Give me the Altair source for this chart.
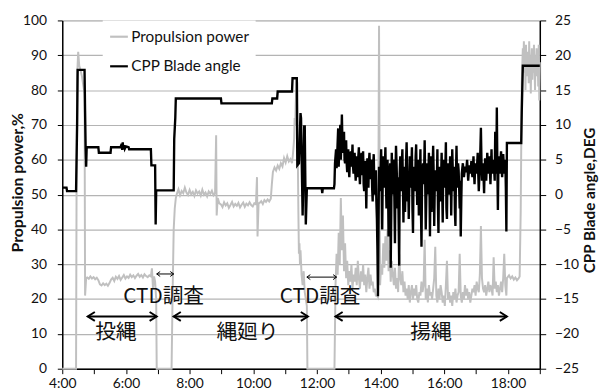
import altair as alt
import pandas as pd


def hrs(t):
    h, m = t.split(":")
    return int(h) + int(m) / 60.0


# ---------------- Propulsion power (%) ----------------
prop_pts_1_t = ["4:00", "4:26", "4:27", "4:28", "4:30", "4:32", "4:34", "4:37", "4:40", "4:42", "4:43", "4:45"]
prop_pts_1_v = [0, 0, 55, 84, 91, 87, 86, 84, 81, 79, 21, 26]

prop_run_1_start, prop_run_1_step = "4:47", 3
prop_run_1_v = [26.2, 25.8, 26.5, 25.9, 26.3, 25.7, 26.1, 25.4,
                24.2, 23.9, 24.5, 24.0, 24.4, 23.8, 24.6,
                25.6, 26.1, 25.2, 26.4, 25.8, 26.6, 25.5, 26.2, 26.9, 25.9, 26.5, 26.1, 27.0,
                26.3, 26.8, 26.0, 26.7, 27.2, 26.4, 26.9, 26.2, 27.1, 26.6, 26.3, 26.8, 26.5]

prop_pts_2_t = ["6:49", "6:51", "6:53", "6:55", "6:57", "6:58", "7:26", "7:28", "7:30", "7:32", "7:34"]
prop_pts_2_v = [28.8, 23, 26.5, 25, 20, 0, 0, 22, 40, 46, 49]

prop_run_2_start, prop_run_2_step = "7:36", 3
prop_run_2_v = [50.2, 51.5, 49.8, 51.0, 50.4, 52.0, 50.6, 49.9, 51.3, 50.1, 50.8, 49.6,
                51.2, 50.3, 50.9, 49.7, 51.4, 50.0, 50.6, 49.5, 50.9, 50.2, 51.1, 49.8]

prop_pts_3_t = ["8:48", "8:50", "8:51", "8:53", "8:56"]
prop_pts_3_v = [50.5, 67, 44, 49, 47.5]

prop_run_3_start, prop_run_3_step = "8:59", 3
prop_run_3_v = [47.2, 46.4, 47.8, 46.9, 47.5, 46.2, 47.0, 47.9, 46.6, 47.3, 46.8, 47.6,
                46.3, 47.1, 47.7, 46.5, 47.4, 46.9, 47.8, 47.0, 46.6, 47.5, 47.2]

prop_pts_4_t = ["10:07", "10:08", "10:10"]
prop_pts_4_v = [55, 38, 47.5]

prop_run_4_start, prop_run_4_step = "10:12", 3
prop_run_4_v = [47.6, 48.1, 47.3, 48.4, 47.9, 48.6, 48.0, 48.8]

prop_pts_5_t = ["10:35", "10:37", "10:40", "10:43", "10:46", "10:49", "10:52", "10:55", "10:58", "11:01",
                "11:04", "11:07", "11:10", "11:13", "11:15", "11:17", "11:18", "11:19", "11:20", "11:21",
                "11:22", "11:23", "11:24", "11:25", "11:26", "11:27", "11:28", "11:29", "11:31", "11:33",
                "11:35", "11:37", "11:39", "11:41", "11:42", "12:33"]
prop_pts_5_v = [53, 56.5, 57.8, 56.9, 58.3, 57.4, 59.0, 58.1, 60.5, 59.2,
                61.0, 59.5, 60.2, 59.0, 62, 66, 72, 70, 76, 80,
                83, 82, 60, 45, 33, 36, 30, 34, 27, 24,
                28, 22, 20, 18, 0, 0]

prop_run_5_start, prop_run_5_step = "12:35", 2
prop_run_5_v = [24, 33, 27, 39, 30, 49, 34, 44, 28, 36,
                26, 31, 24, 28, 25, 30, 23, 27, 25, 29,
                24, 31, 26, 23, 28, 25, 30, 24, 27, 22,
                26, 29, 23, 27, 24, 25, 22, 23, 21, 21,
                20.5, 98.5, 24, 30, 27, 36, 29, 38, 31, 40,
                28, 34, 25, 31, 27, 24, 29, 23, 26, 22,
                33, 26, 24, 28, 22, 25, 21, 23, 20, 24,
                19, 22, 24, 20, 23, 21, 24, 20, 19, 22,
                21, 25, 22, 24, 37, 20, 23, 19, 24, 21,
                22, 20, 23, 26, 35, 21, 19, 23, 20, 24,
                22, 19, 21, 18, 24, 31, 20, 22, 19, 21,
                18, 22, 20, 23, 19, 21, 22, 33, 21, 19,
                22, 20, 24, 21, 23, 20, 22, 19, 21, 23,
                22, 24, 21, 25, 23, 22, 27, 41, 26, 23,
                22, 24, 21, 23, 25, 22, 24, 23, 21, 32,
                23, 25, 22, 24, 21, 23, 25, 22, 26, 33,
                24, 21]

prop_pts_6_t = ["17:58", "18:02", "18:05", "18:08", "18:11", "18:14", "18:17", "18:20", "18:22", "18:24", "18:26"]
prop_pts_6_v = [26, 26.8, 25.9, 26.5, 25.6, 26.2, 25.4, 25.9, 26.5, 45, 82]

prop_run_6_start, prop_run_6_step = "18:28", 1
prop_run_6_v = [92, 88, 94, 85, 90, 80, 93, 87, 91, 84, 89, 82, 94, 86, 90, 79, 88,
                92, 83, 91, 85, 93, 87, 80, 90, 84, 92, 86, 89, 81, 93, 77, 88]

# ---------------- CPP blade angle (DEG) ----------------
blade_pts_1_t = ["4:00", "4:08", "4:09", "4:26", "4:28", "4:29", "4:42", "4:43", "4:44", "4:45", "4:46",
                 "5:08", "5:09", "5:31", "5:32", "5:50", "5:52", "5:53", "5:54", "5:55", "5:57", "5:58",
                 "6:00", "6:05", "6:06", "6:47", "6:48", "6:55", "6:56", "6:57", "7:30", "7:31", "7:33",
                 "7:34", "8:59", "9:00", "10:35", "10:36", "10:45", "10:46", "11:13", "11:14", "11:22",
                 "11:23", "11:26", "11:29", "11:30", "11:33", "11:36", "11:37", "11:39", "11:41", "12:09",
                 "12:10", "12:11", "12:32"]
blade_pts_1_v = [1.0, 1.0, 0.5, 0.5, 10, 17.9, 17.9, 12, 6.8, 4.0, 6.8,
                 6.8, 6.0, 6.0, 6.8, 6.8, 7.3, 6.4, 7.5, 6.5, 7.1, 6.6,
                 6.9, 6.8, 6.5, 6.5, 4.2, 4.2, -4.3, 0.6, 0.6, 8, 11,
                 13.8, 13.8, 13.1, 13.1, 13.8, 13.8, 14.8, 14.8, 16.7, 16.7,
                 4.2, 4.5, 11.7, 11.0, -3.0, 9.8, 9.8, -4.3, 0.9, 0.9,
                 0.2, 0.9, 0.9]

# samples on even minutes (12:33, 12:35, ...)
blade_run_a_start, blade_run_a_step = "12:33", 2
blade_run_a_v = [1.5, 5.5, 3.8, 7.5, 4.0, 8.5, 5.0, 11.5, 6.0, 9.0,
                 4.5, 7.8, 3.2, 6.5, 2.5, 5.8, 4.0, 7.2, 3.0, 6.0,
                 2.0, 5.5, 3.5, 6.8, 1.5, 5.0, 2.8, 6.2, 0.5, 4.8,
                 -2.0, 5.2, 1.0, 6.0, 2.2, 4.5, -1.0, 5.8, 0.0, 3.5,
                 -3.5, -14.6, 4.0, 0.5, 6.5, -5.0, 5.5, 1.0, 6.8, -2.0,
                 5.0, -6.0, 3.0, -10.5, 6.0, 0.0, 4.5, -7.0, 7.0, 1.5,
                 2.5, -10.2, 5.5, 0.5, 6.5, -4.0, 4.0, 1.0, 7.5, -1.0,
                 -3.5, 5.5, 1.0, 6.8, -5.5, 4.0, 0.5, 7.2, -1.5, 5.0,
                 0.5, 6.5, -7.5, 3.5, 1.5, 7.8, -5.0, 4.5, 0.0, 6.0,
                 -6.0, 5.5, 1.0, 7.0, -4.5, 3.0, 0.5, 6.5, -5.5, 4.0,
                 -1.0, 6.0, -4.0, 5.0, 1.0, 7.5, -3.5, 4.5, 0.0, 5.5,
                 -3.0, 6.5, 0.5, 4.0, -4.5, 7.0, 1.0, 3.5, -2.0, -6.0,
                 3.0, 4.5, 2.5, 4.0, 3.2, 5.0, 2.0, 4.2, 3.0, 4.8,
                 2.5, 5.5, 1.5, 4.5, 3.0, 6.0, 0.5, 4.0, 9.6, 2.0,
                 4.5, 0.2, 5.2, 2.0, 6.0, 3.0, 5.5, 1.5, 6.5, 3.5,
                 5.0, 2.0, 6.8, 12.5, -2.2, 5.5, 3.0, 6.2, 2.5, 5.8,
                 3.0, 5.0, -5.3]

# samples in between (12:34, 12:36, ...)
blade_run_b_start, blade_run_b_step = "12:34", 2
blade_run_b_v = [4.5, 6.5, 5.5, 9.5, 7.0, 10.0, 8.0, 7.5, 6.5, 5.0,
                 6.0, 4.5, 5.5, 3.8, 4.8, 6.2, 5.2, 4.0, 5.5, 3.5,
                 4.0, 2.5, 5.5, 3.0, 4.2, 6.0, 3.5, 1.5, 4.0, 2.5,
                 3.0, 1.8, 4.8, 3.2, 5.0, 1.0, 4.2, 2.0, 1.5, -1.0,
                 -8.0, -4.0, 2.0, 3.5, 1.5, 2.5, 3.0, 4.0, 2.0, 3.5,
                 1.0, -2.5, 4.5, -3.0, 2.5, 5.0, -1.0, 3.0, 4.5, -2.0,
                 -4.0, 3.0, 2.0, 4.5, 1.5, 3.0, -2.5, 5.0, 3.5, 2.0,
                 1.0, 3.5, 4.0, -2.0, 2.5, 3.0, 5.5, 1.5, 2.0, -3.0,
                 3.0, -2.0, 1.0, 4.5, 3.5, 2.0, -1.0, 2.5, 3.0, 1.5,
                 2.5, -2.5, 4.0, 3.0, 1.0, 3.5, 2.0, -1.5, 2.5, 3.0,
                 2.5, 1.0, 3.5, 2.0, 4.0, -2.0, 2.5, 3.0, 1.5, 4.0,
                 2.0, 3.5, 1.5, -2.5, 3.0, 2.5, 4.5, 1.0, 2.0, -1.0,
                 3.8, 3.4, 3.2, 3.6, 4.0, 3.5, 3.0, 3.8, 3.6, 3.5,
                 3.8, 3.2, 3.6, 4.2, 4.5, 3.0, 2.5, 6.5, 5.0, 3.0,
                 2.5, 3.5, 3.8, 4.0, 4.5, 4.2, 3.5, 4.0, 3.0, 4.5,
                 3.5, 9.0, 3.0, 4.0, 4.5, 4.0, 5.0, 4.0, 4.2, 4.5,
                 4.0, 1.0]

blade_pts_2_t = ["17:58", "18:25", "18:26", "18:28", "19:00"]
blade_pts_2_v = [7.4, 7.4, 12, 18.5, 18.5]

# ---------------- annotations ----------------
label_text = ["CTD調査", "CTD調査", "投縄", "縄廻り", "揚縄"]
label_x = ["7:11", "12:06", "5:41", "9:49", "15:35"]
label_y = [20.7, 20.7, 10.2, 10.2, 10.2]

big_arrow_from = ["4:48", "7:30", "12:35"]
big_arrow_to = ["6:58", "11:43", "17:58"]
big_arrow_y = [15, 15, 15]

small_arrow_from = ["6:58", "11:41"]
small_arrow_to = ["7:30", "12:37"]
small_arrow_y = [27.2, 26.3]

SERIES = ["Propulsion power", "CPP Blade angle"]


def build(parts, name):
    rows = []
    for p in parts:
        if p[0] == "pts":
            for t, v in zip(p[1], p[2]):
                rows.append((hrs(t), v))
        else:
            t0 = hrs(p[1])
            for i, v in enumerate(p[3]):
                rows.append((t0 + i * p[2] / 60.0, v))
    df = pd.DataFrame(rows, columns=["t", "v"]).sort_values("t", kind="stable")
    df["s"] = name
    df["o"] = range(len(df))
    return df


prop_df = build([
    ("pts", prop_pts_1_t, prop_pts_1_v),
    ("run", prop_run_1_start, prop_run_1_step, prop_run_1_v),
    ("pts", prop_pts_2_t, prop_pts_2_v),
    ("run", prop_run_2_start, prop_run_2_step, prop_run_2_v),
    ("pts", prop_pts_3_t, prop_pts_3_v),
    ("run", prop_run_3_start, prop_run_3_step, prop_run_3_v),
    ("pts", prop_pts_4_t, prop_pts_4_v),
    ("run", prop_run_4_start, prop_run_4_step, prop_run_4_v),
    ("pts", prop_pts_5_t, prop_pts_5_v),
    ("run", prop_run_5_start, prop_run_5_step, prop_run_5_v),
    ("pts", prop_pts_6_t, prop_pts_6_v),
    ("run", prop_run_6_start, prop_run_6_step, prop_run_6_v),
], SERIES[0])

blade_df = build([
    ("pts", blade_pts_1_t, blade_pts_1_v),
    ("run", blade_run_a_start, blade_run_a_step, blade_run_a_v),
    ("run", blade_run_b_start, blade_run_b_step, blade_run_b_v),
    ("pts", blade_pts_2_t, blade_pts_2_v),
], SERIES[1])

labels_df = pd.DataFrame({"t": [hrs(t) for t in label_x], "v": label_y, "label": label_text})
big_df = pd.DataFrame({"t": [hrs(t) for t in big_arrow_from], "t2": [hrs(t) for t in big_arrow_to], "v": big_arrow_y})
small_df = pd.DataFrame({"t": [hrs(t) for t in small_arrow_from], "t2": [hrs(t) for t in small_arrow_to], "v": small_arrow_y})

FONT = "Lato"
CJK = "Noto Sans CJK JP"
INK = "#111111"

x_axis = alt.Axis(values=list(range(4, 20)),
                  labelExpr="datum.value % 2 == 0 ? datum.value + ':00' : ''",
                  title=None, grid=False, domainColor="black", domainWidth=1.5,
                  tickColor="black", tickSize=5, labelPadding=3, labelFont=FONT,
                  labelFontSize=14, labelColor=INK, labelOverlap=False, labelFlush=False)
x_scale = alt.Scale(domain=[4, 19], nice=False, zero=False)

left_axis = alt.Axis(values=list(range(0, 101, 10)), title="Propulsion power,%",
                     titleFont=FONT, titleFontSize=16, titleFontWeight="bold", titleColor=INK,
                     titleAngle=270, titleX=-45, titleY=164, titleBaseline="middle",
                     grid=True, gridColor="#b4b4b4", gridWidth=1.2,
                     domainColor="black", domainWidth=1.5, tickColor="black", tickSize=5,
                     labelPadding=11, labelFont=FONT, labelFontSize=14, labelColor=INK)
left_scale = alt.Scale(domain=[0, 100], nice=False)

right_axis = alt.Axis(orient="right", values=list(range(-25, 26, 5)), title="CPP Blade angle,DEG",
                      titleFont=FONT, titleFontSize=15.5, titleFontWeight="bold", titleColor=INK,
                      titleAngle=270, titleX=50, titleY=182, titleBaseline="middle",
                      grid=False, domainColor="black", domainWidth=1.5, tickColor="black",
                      tickSize=6, labelPadding=9, labelFont=FONT, labelFontSize=14, labelColor=INK)
right_scale = alt.Scale(domain=[-25, 25], nice=False)

color = alt.Color("s:N",
                  scale=alt.Scale(domain=SERIES, range=["#c0c0c0", "#000000"]),
                  legend=alt.Legend(title=None, orient="none", legendX=41, legendY=0,
                                    fillColor="white", padding=6, symbolType="stroke",
                                    symbolSize=324, symbolStrokeWidth=2.2, labelFont=FONT,
                                    labelFontSize=15.5, labelColor=INK, rowPadding=11,
                                    labelOffset=2))

X = alt.X("t:Q", scale=x_scale, axis=x_axis)
YL = alt.Y("v:Q", scale=left_scale, axis=left_axis)

prop_line = alt.Chart(prop_df).mark_line(strokeWidth=2).encode(
    x=X, y=YL, color=color, order="o:Q")

big_rules = alt.Chart(big_df).mark_rule(color="black", strokeWidth=2).encode(
    x=X, x2="t2:Q", y=YL)
big_left = alt.Chart(big_df).mark_point(shape="M 1.6 -1 L 0 0 L 1.6 1", size=81, filled=False,
                                        stroke="black", strokeWidth=2, opacity=1).encode(x=X, y=YL)
big_right = alt.Chart(big_df).mark_point(shape="M -1.6 -1 L 0 0 L -1.6 1", size=81, filled=False,
                                         stroke="black", strokeWidth=2, opacity=1).encode(
    x=alt.X("t2:Q", scale=x_scale, axis=x_axis), y=YL)

small_rules = alt.Chart(small_df).mark_rule(color="black", strokeWidth=1).encode(
    x=X, x2="t2:Q", y=YL)
small_left = alt.Chart(small_df).mark_point(shape="M 1.4 -1 L 0 0 L 1.4 1", size=25, filled=False,
                                            stroke="black", strokeWidth=1, opacity=1).encode(x=X, y=YL)
small_right = alt.Chart(small_df).mark_point(shape="M -1.4 -1 L 0 0 L -1.4 1", size=25, filled=False,
                                             stroke="black", strokeWidth=1, opacity=1).encode(
    x=alt.X("t2:Q", scale=x_scale, axis=x_axis), y=YL)

texts = alt.Chart(labels_df).mark_text(font=CJK, fontSize=21, color=INK, align="center",
                                       baseline="middle").encode(x=X, y=YL, text="label:N")

left_layer = alt.layer(prop_line, big_rules, big_left, big_right,
                       small_rules, small_left, small_right, texts)

blade_line = alt.Chart(blade_df).mark_line(strokeWidth=2.4).encode(
    x=X, y=alt.Y("v:Q", scale=right_scale, axis=right_axis), color=color, order="o:Q")

chart = alt.layer(left_layer, blade_line).resolve_scale(y="independent").properties(
    width=484, height=353,
    padding={"left": 55, "top": 10, "right": 60, "bottom": 21},
    autosize=alt.AutoSizeParams(type="none"),
).configure_view(stroke=None).configure(background="white")

chart.save("out.html", embed_options={"renderer": "svg", "actions": False})
